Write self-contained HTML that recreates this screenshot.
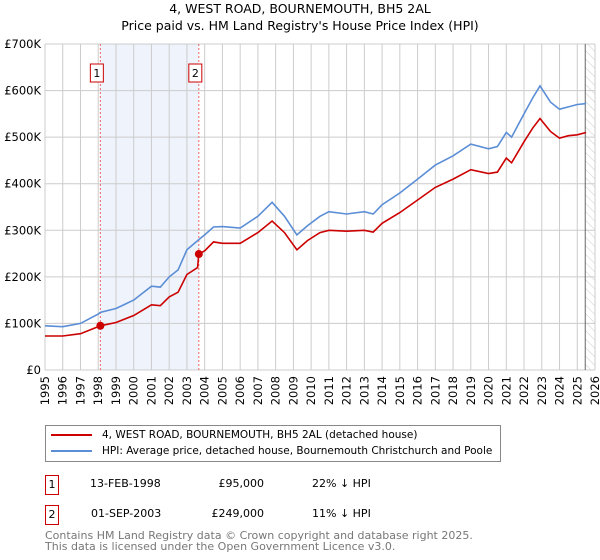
<!DOCTYPE html>
<html><head><meta charset="utf-8"><style>
body{margin:0;width:600px;height:560px;background:#fff;font-family:"DejaVu Sans","Liberation Sans",sans-serif;overflow:hidden;position:relative}
.t{position:absolute;white-space:nowrap;color:#000}
</style></head><body>
<svg id="chart" width="600" height="420" style="position:absolute;left:0;top:0" font-family="DejaVu Sans, Liberation Sans, sans-serif">
<defs><pattern id="hatch" width="6" height="6" patternUnits="userSpaceOnUse" patternTransform="rotate(-45)"><line x1="0" y1="0" x2="0" y2="6" stroke="#ccc" stroke-width="1"/></pattern></defs>
<text x="300" y="13" text-anchor="middle" font-size="12.5">4, WEST ROAD, BOURNEMOUTH, BH5 2AL</text>
<text x="300" y="30" text-anchor="middle" font-size="12.5">Price paid vs. HM Land Registry's House Price Index (HPI)</text>
<g id="grid"></g><g id="marks"></g><g id="axes"></g>
</svg>
<div style="position:absolute;left:45px;top:425px;width:454px;height:35px;border:1px solid #888;font-size:10.5px;white-space:nowrap">
<div style="position:absolute;left:5px;top:3px"><span style="display:inline-block;width:41px;height:2px;background:#cc0000;vertical-align:middle;margin-right:10px"></span>4, WEST ROAD, BOURNEMOUTH, BH5 2AL (detached house)</div>
<div style="position:absolute;left:5px;top:19px"><span style="display:inline-block;width:41px;height:2px;background:#5b8ed6;vertical-align:middle;margin-right:10px"></span>HPI: Average price, detached house, Bournemouth Christchurch and Poole</div>
</div>
<div style="font-size:11px">
<div class="t" style="left:45px;top:475px;width:12px;height:18px;border:1px solid #cc0000;text-align:center;line-height:18px">1</div>
<div class="t" style="left:90px;top:477px">13-FEB-1998</div>
<div class="t" style="left:200px;top:477px;width:64px;text-align:right">£95,000</div>
<div class="t" style="left:312px;top:477px">22% ↓ HPI</div>
</div>
<div style="font-size:11px">
<div class="t" style="left:45px;top:505px;width:12px;height:18px;border:1px solid #cc0000;text-align:center;line-height:18px">2</div>
<div class="t" style="left:91px;top:507px">01-SEP-2003</div>
<div class="t" style="left:200px;top:507px;width:64px;text-align:right">£249,000</div>
<div class="t" style="left:312px;top:507px">11% ↓ HPI</div>
</div>
<div class="t" style="left:45px;top:530px;font-size:11px;line-height:11px;color:#777">Contains HM Land Registry data © Crown copyright and database right 2025.<br>This data is licensed under the Open Government Licence v3.0.</div>
<script>
const hpiYears=[1995,1996,1997,1998,1998.12,1999,2000,2001,2001.5,2002,2002.5,2003,2003.67,2004,2004.5,2005,2006,2007,2007.8,2008.5,2009.2,2009.8,2010.5,2011,2012,2013,2013.5,2014,2015,2016,2017,2018,2019,2020,2020.5,2021,2021.3,2022,2022.5,2022.9,2023.5,2024,2024.5,2025,2025.5];
const hpiValues=[95,93,100,120,124,132,150,180,178,200,215,258,280,290,307,308,305,330,360,330,290,310,330,340,335,340,335,355,380,410,440,460,485,475,480,510,500,550,585,610,575,560,565,570,572];
const saleYears=[1995,1996,1997,1998.12,1999,2000,2001,2001.5,2002,2002.5,2003,2003.6,2003.67,2004,2004.5,2005,2006,2007,2007.8,2008.5,2009.2,2009.8,2010.5,2011,2012,2013,2013.5,2014,2015,2016,2017,2018,2019,2020,2020.5,2021,2021.3,2022,2022.5,2022.9,2023.5,2024,2024.5,2025,2025.5];
const saleValues=[73,73,78,95,102,117,140,138,157,167,205,220,249,256,275,272,272,295,320,295,258,278,295,300,298,300,296,315,338,365,392,410,430,422,425,455,445,490,520,540,512,498,503,505,510];
const salePointYears=[1998.12,2003.67];
const salePointValues=[95,249];
const yTicks=[0,100,200,300,400,500,600,700];
const yTickLabels=["£0","£100K","£200K","£300K","£400K","£500K","£600K","£700K"];
const xTicks=[1995,1996,1997,1998,1999,2000,2001,2002,2003,2004,2005,2006,2007,2008,2009,2010,2011,2012,2013,2014,2015,2016,2017,2018,2019,2020,2021,2022,2023,2024,2025,2026];
const NS="http://www.w3.org/2000/svg";
const X=y=>45+(y-1995)*(550/31);
const Y=v=>370-v*(326/700);
function mk(p,tag,at){const e=document.createElementNS(NS,tag);for(const k in at)e.setAttribute(k,at[k]);p.appendChild(e);return e;}
const grid=document.getElementById('grid'),marks=document.getElementById('marks'),axes=document.getElementById('axes');
const shade=mk(grid,'rect',{x:X(1998.12),y:Y(700),width:X(2003.67)-X(1998.12),height:Y(0)-Y(700),fill:'#eef3fc'});


const hatch=mk(grid,'rect',{x:X(2025.45),y:Y(700),width:X(2026)-X(2025.45),height:Y(0)-Y(700),fill:'url(#hatch)'});


yTicks.forEach((v,i)=>{mk(grid,'line',{x1:45,x2:595,y1:Y(v),y2:Y(v),stroke:'#ccc'});
const t=mk(axes,'text',{x:41,y:Y(v)+4,'text-anchor':'end','font-size':'11.5'});t.textContent=yTickLabels[i];

});
xTicks.forEach(y=>{mk(grid,'line',{x1:X(y),x2:X(y),y1:Y(0),y2:Y(700),stroke:'#ccc'});
const t=mk(axes,'text',{x:0,y:0,'text-anchor':'end','font-size':'11.5',transform:`translate(${X(y)+4},376) rotate(-90)`});t.textContent=y;

});
mk(grid,'line',{x1:X(2025.45),x2:X(2025.45),y1:Y(0),y2:Y(700),stroke:'#666'});
salePointYears.forEach((y,i)=>{const l=mk(grid,'line',{x1:X(y),x2:X(y),y1:Y(0),y2:Y(700),stroke:'#e66','stroke-dasharray':'2,2'});


const b=mk(axes,'rect',{x:X(y)-10,y:64,width:13,height:18,fill:'#fff',stroke:'#cc0000'});


const t=mk(axes,'text',{x:X(y)-3.5,y:77,'text-anchor':'middle','font-size':'11'});t.textContent=String(i+1);});
function line(xs,vs,c,name){const d=xs.map((x,i)=>(i?'L':'M')+X(x).toFixed(1)+','+Y(vs[i]).toFixed(1)).join('');
const p=mk(marks,'path',{d,fill:'none',stroke:c,'stroke-width':1.6});

}
line(hpiYears,hpiValues,'#5b8ed6','hpi-line');
line(saleYears,saleValues,'#cc0000','property-line');
salePointYears.forEach((y,i)=>{const c=mk(marks,'circle',{cx:X(y),cy:Y(salePointValues[i]),r:4,fill:'#cc0000'});

});
</script>
</body></html>
